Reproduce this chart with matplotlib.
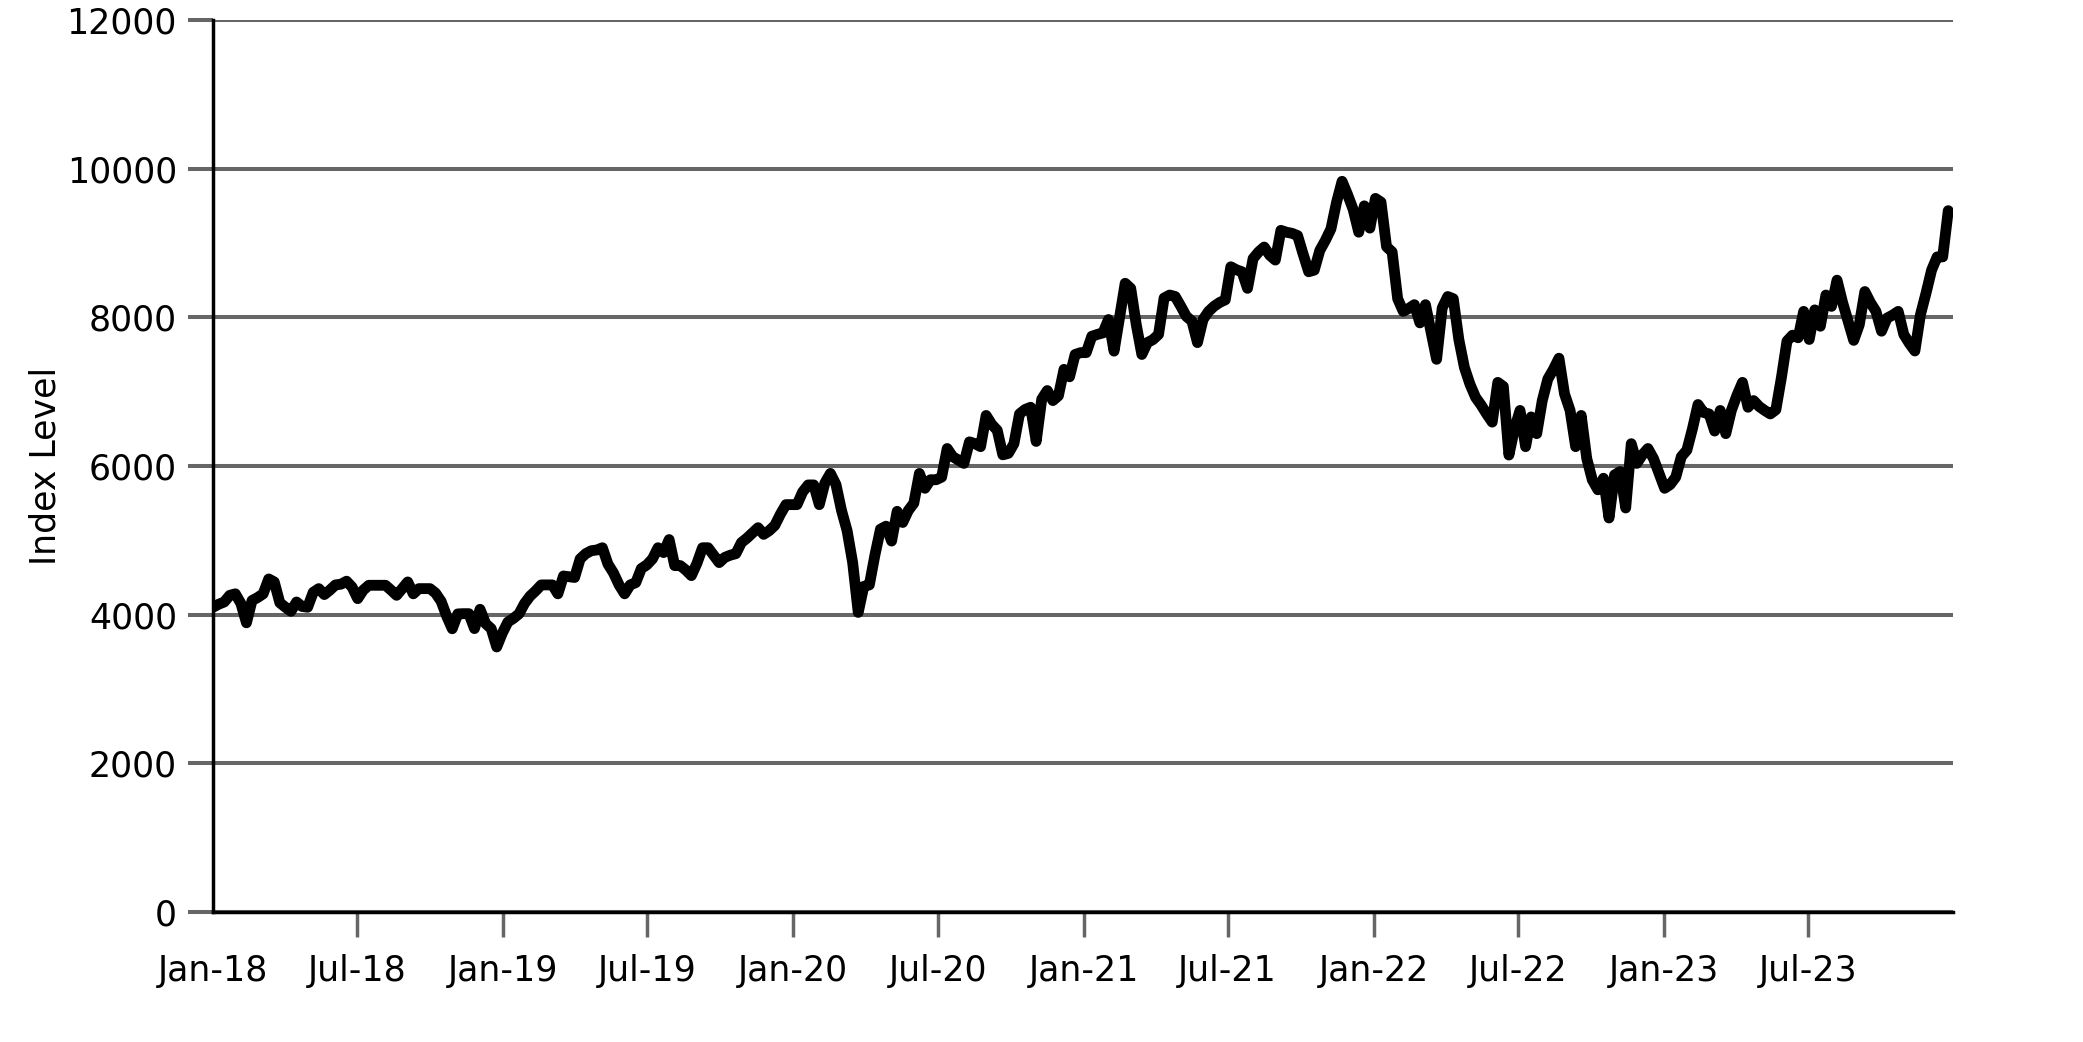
import numpy as np
import pandas as pd
import matplotlib
matplotlib.use("Agg")
import matplotlib.pyplot as plt
import matplotlib.dates as mdates

# weekly index level
start_date = "2018-01-01"
index_level = [
    4100, 4140, 4170, 4260, 4280, 4150, 3890, 4190, 4230, 4280,
    4480, 4440, 4160, 4100, 4045, 4170, 4110, 4100, 4300, 4350,
    4270, 4330, 4400, 4410, 4450, 4370, 4215, 4330, 4395, 4395,
    4395, 4395, 4330, 4260, 4350, 4440, 4280, 4350, 4350, 4350,
    4290, 4180, 3980, 3810, 4010, 4013, 4013, 3812, 4072, 3880,
    3812, 3565, 3750, 3900, 3950, 4010, 4150, 4250, 4320, 4400,
    4400, 4400, 4280, 4520, 4510, 4500, 4750, 4820, 4860, 4870,
    4900, 4680, 4560, 4400, 4280, 4400, 4430, 4620, 4670, 4750,
    4900, 4835, 5010, 4660, 4660, 4600, 4525, 4690, 4900, 4900,
    4800, 4700, 4770, 4800, 4820, 4970, 5030, 5100, 5170, 5080,
    5130, 5200, 5350, 5480, 5480, 5480, 5650, 5745, 5745, 5480,
    5770, 5900, 5750, 5400, 5130, 4700, 4030, 4380, 4400, 4800,
    5150, 5190, 4990, 5390, 5240, 5400, 5500, 5900, 5700, 5815,
    5815, 5850, 6235, 6125, 6080, 6035, 6325, 6300, 6260, 6680,
    6560, 6480, 6150, 6170, 6300, 6700, 6760, 6790, 6330, 6900,
    7015, 6880, 6945, 7300, 7200, 7500, 7525, 7525, 7745, 7770,
    7790, 7970, 7545, 8000, 8458, 8390, 7900, 7500, 7660, 7700,
    7770, 8260, 8300, 8280, 8150, 8013, 7950, 7660, 7970, 8080,
    8150, 8200, 8235, 8680, 8640, 8613, 8390, 8790, 8880, 8946,
    8835, 8770, 9170, 9145, 9130, 9100, 8850, 8613, 8635, 8900,
    9035, 9190, 9545, 9830, 9650, 9450, 9145, 9500, 9200, 9600,
    9550, 8950, 8880, 8250, 8080, 8120, 8170, 7925, 8170, 7800,
    7435, 8125, 8280, 8250, 7700, 7325, 7100, 6925, 6820, 6700,
    6590, 7125, 7070, 6147, 6500, 6747, 6260, 6660, 6435, 6880,
    7170, 7300, 7450, 6970, 6747, 6260, 6680, 6100, 5813, 5680,
    5835, 5300, 5880, 5925, 5435, 6300, 6035, 6150, 6235, 6100,
    5900, 5700, 5750, 5850, 6125, 6213, 6500, 6827, 6720, 6700,
    6470, 6747, 6435, 6747, 6950, 7125, 6790, 6880, 6800, 6747,
    6700, 6756, 7190, 7680, 7760, 7725, 8080, 7702, 8100, 7880,
    8300, 8147, 8500, 8200, 7947, 7690, 7900, 8347, 8200, 8080,
    7813, 7990, 8030, 8080, 7770, 7650, 7547, 8035, 8325, 8635,
    8813, 8813, 9435,
]
y_ticks = [0, 2000, 4000, 6000, 8000, 10000, 12000]

dates = pd.date_range(start_date, periods=len(index_level), freq="7D")

fig = plt.figure(figsize=(20.83, 10.42), dpi=100)
ax = fig.add_axes([0.1023, 0.1248, 0.8353, 0.856])

grid_col = "#666666"
ax.plot(dates, index_level, color="black", lw=7.8,
        solid_joinstyle="round", solid_capstyle="round", zorder=3)

ax.set_ylim(0, 12000)
ax.set_xlim(dates[0], pd.Timestamp("2023-12-31"))
ax.set_yticks(y_ticks)
ax.yaxis.grid(True, color=grid_col, lw=2.9)
ax.set_axisbelow(True)

ax.xaxis.set_major_locator(mdates.MonthLocator(bymonth=[1, 7]))
ax.xaxis.set_major_formatter(mdates.DateFormatter("%b-%y"))

for s in ["top", "right"]:
    ax.spines[s].set_visible(False)
for s in ["left", "bottom"]:
    ax.spines[s].set_linewidth(2.5)
    ax.spines[s].set_color("black")
    ax.spines[s].set_zorder(4)

ax.tick_params(axis="y", length=18, width=2.9, color=grid_col, pad=8, labelsize=25)
ax.tick_params(axis="x", length=18, width=2.5, color=grid_col, pad=12, labelsize=25)
ax.xaxis.get_major_ticks()[0].tick1line.set_visible(False)

ax.set_ylabel("Index Level", fontsize=25, labelpad=3)

fig.savefig("out.png", dpi=100, facecolor="white")
